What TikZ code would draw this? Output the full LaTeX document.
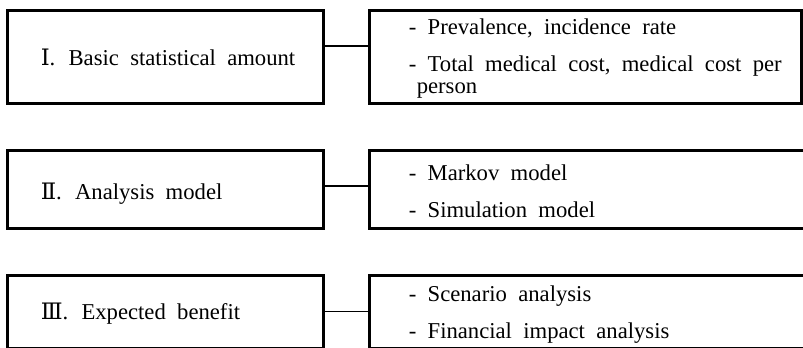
\documentclass[tikz,border=0pt]{standalone}
\usepackage{fontspec}
\setmainfont{Liberation Serif}
\newfontfamily\numfont{DejaVu Serif}
\usetikzlibrary{positioning}
\newcommand{\rnum}[1]{{\numfont #1}}

\begin{document}
\begin{tikzpicture}[x=0.75pt, y=-0.75pt,
    box/.style={draw, line width=2.25pt, minimum width=237pt, inner sep=0pt},
    list/.style={draw, line width=2.25pt, inner sep=0pt},
    lbl/.style={inner sep=0pt, align=left, font={\fontsize{17}{16}\selectfont\spaceskip=0.5em\relax}},
    link/.style={line width=1pt}]
  \useasboundingbox (0,0) rectangle (803,347);

  % I
  \node[box, minimum height=69.75pt] (basic) at (165,56.5) {};
  \node[list, minimum width=324pt, minimum height=69.75pt] (basicitems) at (585,56.5) {};
  \node[lbl, right=26.25pt of {[yshift=-0.75pt]basic.west}] {\rnum{Ⅰ}. Basic statistical amount};
  \node[lbl, right=30.75pt of {[yshift=-1.5pt]basicitems.west}] {- Prevalence, incidence rate\\[11.75pt]
    - Total medical cost, medical cost per\\ \hspace*{6pt}person};
  \draw[link] ([yshift=7.9pt]basic.east) -- ([yshift=7.9pt]basicitems.west);

  % II
  \node[box, minimum height=58.5pt] (model) at (165,189) {};
  \node[list, minimum width=327.75pt, minimum height=58.5pt] (modelitems) at (587.5,189) {};
  \node[lbl, right=26.25pt of {[yshift=-3.5pt]model.west}] {\rnum{Ⅱ}. Analysis model};
  \node[lbl, right=30.75pt of {[yshift=-2pt]modelitems.west}] {- Markov model\\[11.75pt]
    - Simulation model};
  \draw[link] ([yshift=2.25pt]model.east) -- ([yshift=2.25pt]modelitems.west);

  % III
  \node[box, minimum height=54.9pt] (benefit) at (165,311.6) {};
  \node[list, minimum width=327.75pt, minimum height=54.9pt] (benefititems) at (587.5,311.6) {};
  \node[lbl, right=26.25pt of {[yshift=-1.5pt]benefit.west}] {\rnum{Ⅲ}. Expected benefit};
  \node[lbl, right=30.75pt of {[yshift=-2pt]benefititems.west}] {- Scenario analysis\\[11.75pt]
    - Financial impact analysis};
  \draw[link] (benefit.east) -- (benefititems.west);
\end{tikzpicture}
\end{document}
